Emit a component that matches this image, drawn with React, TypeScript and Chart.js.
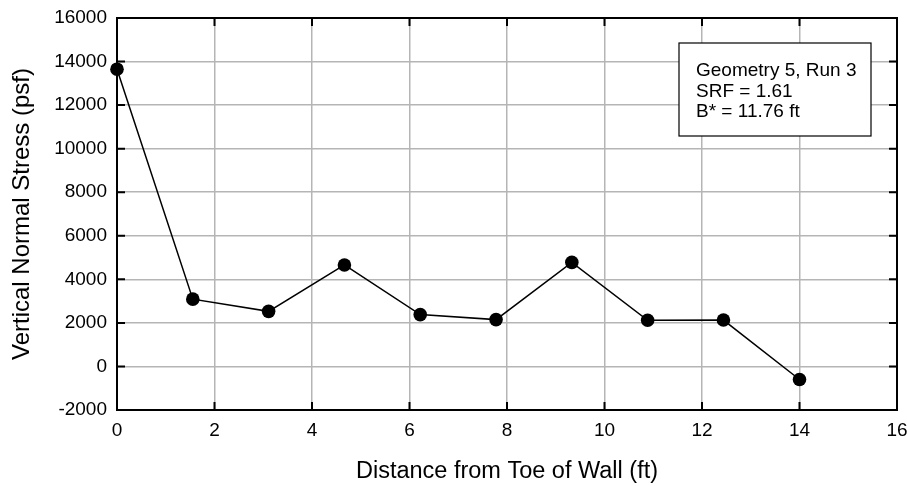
import React, { useEffect, useRef } from "react";
import { Chart, registerables } from "chart.js";

Chart.register(...registerables);

const distances = [0, 1.555, 3.11, 4.665, 6.22, 7.775, 9.33, 10.885, 12.44, 14.0];
const stresses = [13650, 3090, 2530, 4660, 2380, 2150, 4780, 2120, 2130, -600];
const infoLines = ["Geometry 5, Run 3", "SRF = 1.61", "B* = 11.76 ft"];
const xTitle = "Distance from Toe of Wall (ft)";
const yTitle = "Vertical Normal Stress (psf)";

const FONT = "'Liberation Sans', Arial, Helvetica, sans-serif";

const framePlugin = {
  id: "frameAndInfo",
  afterDraw(chart: any) {
    const { ctx, chartArea, scales } = chart;
    const { left, right, top, bottom } = chartArea;
    ctx.save();
    ctx.strokeStyle = "#000";
    ctx.lineWidth = 2;
    ctx.strokeRect(left, top, right - left, bottom - top);
    const tl = 8;
    ctx.beginPath();
    scales.x.ticks.forEach((t: any) => {
      const px = scales.x.getPixelForValue(t.value);
      ctx.moveTo(px, bottom);
      ctx.lineTo(px, bottom - tl);
      ctx.moveTo(px, top);
      ctx.lineTo(px, top + tl);
    });
    scales.y.ticks.forEach((t: any) => {
      const py = scales.y.getPixelForValue(t.value);
      ctx.moveTo(right, py);
      ctx.lineTo(right - tl, py);
      ctx.moveTo(left, py);
      ctx.lineTo(left + tl, py);
    });
    ctx.stroke();
    const bx = 679, by = 43, bw = 192, bh = 93;
    ctx.fillStyle = "#fff";
    ctx.fillRect(bx, by, bw, bh);
    ctx.lineWidth = 1.2;
    ctx.strokeStyle = "#000";
    ctx.strokeRect(bx, by, bw, bh);
    ctx.fillStyle = "#000";
    ctx.font = `19px ${FONT}`;
    ctx.textAlign = "left";
    ctx.textBaseline = "alphabetic";
    infoLines.forEach((line, i) => {
      ctx.fillText(line, 696, 76 + i * 20.5);
    });
    ctx.restore();
  },
};

export default function App() {
  const ref = useRef<HTMLCanvasElement | null>(null);
  useEffect(() => {
    if (!ref.current) return;
    const chart = new Chart(ref.current, {
      type: "scatter",
      data: {
        datasets: [
          {
            data: distances.map((x, i) => ({ x, y: stresses[i] })),
            showLine: true,
            borderColor: "#000",
            borderWidth: 1.5,
            backgroundColor: "#000",
            pointRadius: 6.8,
            pointHoverRadius: 6.8,
            pointBorderWidth: 0,
            clip: false as any,
          },
        ],
      },
      plugins: [framePlugin],
      options: {
        responsive: false,
        animation: false,
        events: [],
        layout: { padding: { top: 18, right: 10, left: 0, bottom: 0 } },
        plugins: {
          legend: { display: false },
          tooltip: { enabled: false },
        },
        scales: {
          x: {
            type: "linear",
            min: 0,
            max: 16,
            afterFit: (s: any) => {
              s.height = 76;
              s.paddingLeft = 0;
              s.paddingRight = 0;
            },
            ticks: {
              stepSize: 2,
              color: "#000",
              padding: 9,
              font: { family: FONT, size: 19 },
              maxRotation: 0,
              callback: (v: any) => String(v),
            },
            grid: { color: "#b5b5b5", lineWidth: 1.5, drawTicks: false },
            border: { display: false },
            title: {
              display: true,
              text: xTitle,
              color: "#000",
              font: { family: FONT, size: 23.5 },
              padding: { top: 0, bottom: 0 },
            },
          },
          y: {
            type: "linear",
            min: -2000,
            max: 16000,
            afterFit: (s: any) => {
              s.width = 117;
              s.paddingTop = 0;
              s.paddingBottom = 0;
            },
            ticks: {
              stepSize: 2000,
              color: "#000",
              padding: 10,
              font: { family: FONT, size: 19 },
              callback: (v: any) => String(v),
            },
            grid: { color: "#b5b5b5", lineWidth: 1.5, drawTicks: false },
            border: { display: false },
            title: {
              display: true,
              text: yTitle,
              color: "#000",
              font: { family: FONT, size: 24 },
              padding: { top: 8, bottom: 0 },
            },
          },
        },
      },
    });
    return () => chart.destroy();
  }, []);
  return (
    <div style={{ position: "fixed", left: 0, top: 0, width: 907, height: 486, background: "#fff" }}>
      <canvas ref={ref} width={907} height={486} style={{ display: "block" }} />
    </div>
  );
}
